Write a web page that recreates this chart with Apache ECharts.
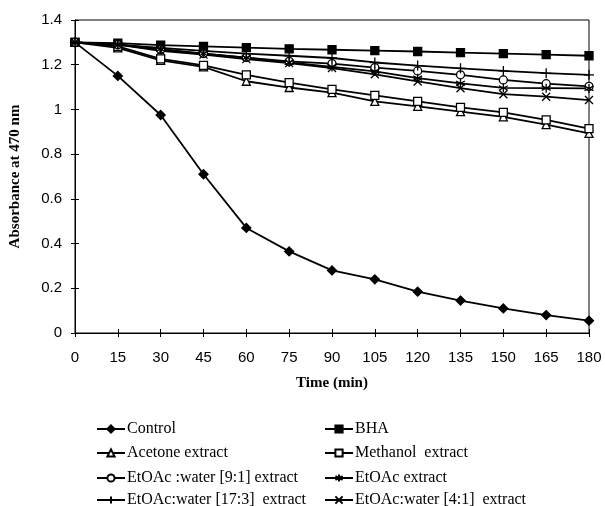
<!DOCTYPE html>
<html>
<head>
<meta charset="utf-8">
<script src="https://cdn.jsdelivr.net/npm/echarts@6/dist/echarts.min.js"></script>
<style>
  html, body { margin: 0; padding: 0; background: #fff; }
  #chart { width: 605px; height: 506px; }
</style>
</head>
<body>
<div id="chart"></div>
<script>
// time points (min)
var times = [0, 15, 30, 45, 60, 75, 90, 105, 120, 135, 150, 165, 180]

// absorbance at 470 nm
var control   = [1.30, 1.15, 0.975, 0.71, 0.47, 0.365, 0.28, 0.24, 0.185, 0.145, 0.11, 0.08, 0.055]
var bha       = [1.30, 1.297, 1.288, 1.282, 1.276, 1.271, 1.267, 1.263, 1.259, 1.254, 1.25, 1.245, 1.24]
var acetone   = [1.30, 1.275, 1.219, 1.19, 1.126, 1.098, 1.075, 1.036, 1.014, 0.99, 0.967, 0.932, 0.893]
var methanol  = [1.30, 1.282, 1.226, 1.197, 1.155, 1.12, 1.09, 1.063, 1.036, 1.009, 0.987, 0.953, 0.914]
var water91   = [1.30, 1.29, 1.267, 1.25, 1.232, 1.215, 1.205, 1.187, 1.172, 1.155, 1.132, 1.115, 1.103]
var etoac     = [1.30, 1.29, 1.27, 1.25, 1.232, 1.21, 1.19, 1.17, 1.14, 1.117, 1.096, 1.095, 1.094]
var water173  = [1.30, 1.29, 1.275, 1.262, 1.25, 1.24, 1.23, 1.21, 1.196, 1.184, 1.172, 1.162, 1.155]
var water41   = [1.30, 1.29, 1.262, 1.245, 1.225, 1.207, 1.185, 1.157, 1.125, 1.095, 1.068, 1.057, 1.042]

var names = [
  'Control', 'BHA', 'Acetone extract', 'Methanol  extract',
  'EtOAc :water [9:1] extract', 'EtOAc extract',
  'EtOAc:water [17:3]  extract', 'EtOAc:water [4:1]  extract'
]

var starPath = 'path://M0,-5L0,5M-4.3,-2.5L4.3,2.5M-4.3,2.5L4.3,-2.5'
var plusPath = 'path://M0,-5L0,5M-5,0L5,0'
var crossPath = 'path://M-4,-4L4,4M-4,4L4,-4'

function pts(vals) {
  return times.map(function (t, i) { return [t, vals[i]] })
}

function mkSeries(name, vals, symbol, fill, size) {
  return {
    name: name,
    type: 'line',
    data: pts(vals),
    symbol: symbol,
    symbolSize: size || 8,
    showAllSymbol: true,
    lineStyle: { color: '#000', width: 1.8 },
    itemStyle: { color: fill, borderColor: '#000', borderWidth: 1.3 },
    emphasis: { disabled: true },
    z: 3
  }
}

// one legend box per item, two columns of four
var legends = names.map(function (n, i) {
  var col = i % 2
  var row = Math.floor(i / 2)
  return {
    data: [n],
    left: col === 0 ? 91 : 319,
    top: [416, 440, 465, 487][row],
    itemWidth: 28, itemHeight: 9, itemGap: 0,
    textStyle: { fontFamily: 'Liberation Serif', fontSize: 16, color: '#000', padding: [0, 0, 0, -3] }
  }
})

var axisFont = { fontFamily: 'Liberation Sans', fontSize: 15, color: '#000' }
var nameFont = { fontFamily: 'Liberation Serif', fontWeight: 'bold', fontSize: 15, color: '#000' }

var chart = echarts.init(document.getElementById('chart'))

chart.setOption({
  animation: false,
  grid: {
    left: 73, right: 16, top: 20, bottom: 173,
    show: true, borderColor: '#000', borderWidth: 1
  },
  legend: legends,
  xAxis: [
    {
      type: 'value', min: 0, max: 180, interval: 15,
      name: 'Time (min)', nameLocation: 'middle', nameGap: 43,
      nameTextStyle: nameFont,
      axisLine: { lineStyle: { color: '#000', width: 1 } },
      axisTick: { show: true, length: 4, lineStyle: { color: '#000' } },
      axisLabel: Object.assign({ margin: 17 }, axisFont),
      splitLine: { show: false }
    },
    {
      type: 'value', min: 0, max: 180, interval: 15, position: 'bottom',
      axisLine: { show: false },
      axisTick: { show: true, inside: true, length: 4, lineStyle: { color: '#000' } },
      axisLabel: { show: false },
      splitLine: { show: false }
    }
  ],
  yAxis: [
    {
      type: 'value', min: 0, max: 1.4, interval: 0.2,
      name: 'Absorbance at 470 nm', nameLocation: 'middle', nameGap: 52,
      nameTextStyle: nameFont,
      axisLine: { show: true, lineStyle: { color: '#000', width: 1 } },
      axisTick: { show: true, length: 4, lineStyle: { color: '#000' } },
      axisLabel: Object.assign({
        margin: 13,
        formatter: function (v) { return String(Math.round(v * 10) / 10) }
      }, axisFont),
      splitLine: { show: false }
    },
    {
      type: 'value', min: 0, max: 1.4, interval: 0.2, position: 'left',
      axisLine: { show: false },
      axisTick: { show: true, inside: true, length: 4, lineStyle: { color: '#000' } },
      axisLabel: { show: false },
      splitLine: { show: false }
    }
  ],
  series: [
    mkSeries(names[0], control, 'diamond', '#000', 9),
    mkSeries(names[1], bha, 'rect', '#000', 8),
    mkSeries(names[2], acetone, 'triangle', '#fff', 8),
    mkSeries(names[3], methanol, 'rect', '#fff', 8),
    mkSeries(names[4], water91, 'circle', '#fff', 8),
    mkSeries(names[5], etoac, starPath, 'none', 9),
    mkSeries(names[6], water173, plusPath, 'none', 10),
    mkSeries(names[7], water41, crossPath, 'none', 8)
  ]
})
</script>
</body>
</html>
